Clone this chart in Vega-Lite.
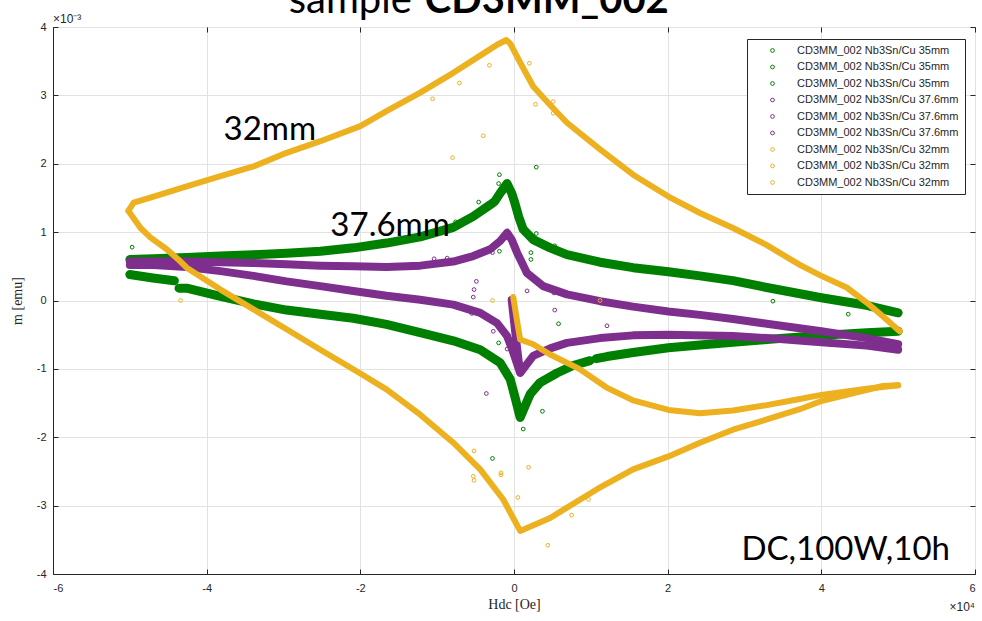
{
  "$schema": "https://vega.github.io/schema/vega-lite/v6.json",
  "width": 922,
  "height": 547,
  "autosize": "none",
  "padding": {"left": 53, "top": 27, "right": 7, "bottom": 47},
  "background": "white",
  "config": {
    "font": "Liberation Sans",
    "view": {"stroke": "#262626", "strokeWidth": 1},
    "axis": {
      "domainColor": "#262626",
      "tickColor": "#262626",
      "labelColor": "#262626",
      "labelFont": "Liberation Sans",
      "labelFontSize": 11,
      "gridColor": "#e2e2e2",
      "gridWidth": 1,
      "tickSize": -5,
      "titleFont": "Liberation Serif",
      "titleFontSize": 14,
      "titleFontWeight": "normal",
      "titleColor": "#262626"
    }
  },
  "datasets": {
    "pts": [
      {"s":"35mm#2","b":"gd","x":5.0,"y":-0.18},{"s":"35mm#2","b":"gd","x":4.59,"y":-0.07},{"s":"35mm#2","b":"gd","x":4.0,"y":0.04},{"s":"35mm#2","b":"gd","x":3.29,"y":0.19},{"s":"35mm#2","b":"gd","x":2.85,"y":0.29},{"s":"35mm#2","b":"gd","x":2.42,"y":0.36},{"s":"35mm#2","b":"gd","x":2.01,"y":0.42},{"s":"35mm#2","b":"gd","x":1.55,"y":0.48},{"s":"35mm#2","b":"gd","x":1.12,"y":0.56},{"s":"35mm#2","b":"gd","x":0.69,"y":0.67},{"s":"35mm#2","b":"gd","x":0.47,"y":0.77},{"s":"35mm#2","b":"gd","x":0.25,"y":0.89},{"s":"35mm#2","b":"gd","x":0.12,"y":1.04},{"s":"35mm#2","b":"gd","x":0.06,"y":1.23},{"s":"35mm#2","b":"gd","x":0.01,"y":1.43},{"s":"35mm#2","b":"gd","x":-0.03,"y":1.57},{"s":"35mm#2","b":"gd","x":-0.09,"y":1.71},{"s":"35mm#2","b":"gd","x":-0.18,"y":1.57},{"s":"35mm#2","b":"gd","x":-0.25,"y":1.45},{"s":"35mm#2","b":"gd","x":-0.31,"y":1.40},{"s":"35mm#2","b":"gd","x":-0.53,"y":1.23},{"s":"35mm#2","b":"gd","x":-0.79,"y":1.07},{"s":"35mm#2","b":"gd","x":-1.22,"y":0.93},{"s":"35mm#2","b":"gd","x":-1.66,"y":0.84},{"s":"35mm#2","b":"gd","x":-2.09,"y":0.77},{"s":"35mm#2","b":"gd","x":-2.52,"y":0.72},{"s":"35mm#2","b":"gd","x":-2.96,"y":0.69},{"s":"35mm#2","b":"gd","x":-3.39,"y":0.67},{"s":"35mm#2","b":"gd","x":-3.82,"y":0.65},{"s":"35mm#2","b":"gd","x":-4.26,"y":0.63},{"s":"35mm#2","b":"gd","x":-4.69,"y":0.61},{"s":"35mm#2","b":"gd","x":-5.0,"y":0.6},
      {"s":"35mm#3","b":"ga1","x":-5.0,"y":0.38},{"s":"35mm#3","b":"ga1","x":-4.7,"y":0.33},{"s":"35mm#3","b":"ga1","x":-4.42,"y":0.29},
      {"s":"35mm#3","b":"ga2","x":-4.36,"y":0.18},{"s":"35mm#3","b":"ga2","x":-4.26,"y":0.18},{"s":"35mm#3","b":"ga2","x":-3.82,"y":0.06},{"s":"35mm#3","b":"ga2","x":-3.39,"y":-0.05},{"s":"35mm#3","b":"ga2","x":-2.96,"y":-0.14},{"s":"35mm#3","b":"ga2","x":-2.52,"y":-0.2},{"s":"35mm#3","b":"ga2","x":-2.09,"y":-0.26},{"s":"35mm#3","b":"ga2","x":-1.66,"y":-0.35},{"s":"35mm#3","b":"ga2","x":-1.22,"y":-0.47},{"s":"35mm#3","b":"ga2","x":-0.79,"y":-0.59},{"s":"35mm#3","b":"ga2","x":-0.44,"y":-0.72},{"s":"35mm#3","b":"ga2","x":-0.18,"y":-0.91},{"s":"35mm#3","b":"ga2","x":-0.05,"y":-1.15},{"s":"35mm#3","b":"ga2","x":0.01,"y":-1.4},{"s":"35mm#3","b":"ga2","x":0.08,"y":-1.71},{"s":"35mm#3","b":"ga2","x":0.21,"y":-1.37},{"s":"35mm#3","b":"ga2","x":0.34,"y":-1.2},{"s":"35mm#3","b":"ga2","x":0.56,"y":-1.06},{"s":"35mm#3","b":"ga2","x":0.77,"y":-0.95},{"s":"35mm#3","b":"ga2","x":0.99,"y":-0.88},
      {"s":"35mm#3","b":"ga3","x":1.07,"y":-0.85},{"s":"35mm#3","b":"ga3","x":1.21,"y":-0.82},{"s":"35mm#3","b":"ga3","x":1.55,"y":-0.76},{"s":"35mm#3","b":"ga3","x":2.01,"y":-0.69},{"s":"35mm#3","b":"ga3","x":2.42,"y":-0.65},{"s":"35mm#3","b":"ga3","x":2.85,"y":-0.61},{"s":"35mm#3","b":"ga3","x":3.29,"y":-0.57},{"s":"35mm#3","b":"ga3","x":4.0,"y":-0.51},{"s":"35mm#3","b":"ga3","x":4.59,"y":-0.47},{"s":"35mm#3","b":"ga3","x":5.0,"y":-0.45},
      {"s":"35mm#1","x":0.29,"y":1.95},{"s":"35mm#1","x":-0.19,"y":1.84},{"s":"35mm#1","x":-0.2,"y":1.71},{"s":"35mm#1","x":0.29,"y":0.98},{"s":"35mm#1","x":0.22,"y":0.7},{"s":"35mm#1","x":0.22,"y":0.6},{"s":"35mm#1","x":0.53,"y":0.8},{"s":"35mm#1","x":0.58,"y":-0.34},{"s":"35mm#1","x":-0.2,"y":-0.62},{"s":"35mm#1","x":0.37,"y":-1.62},{"s":"35mm#1","x":0.12,"y":-1.88},{"s":"35mm#1","x":-0.46,"y":1.44},{"s":"35mm#1","x":-0.76,"y":1.15},{"s":"35mm#1","x":3.37,"y":-0.01},{"s":"35mm#1","x":4.35,"y":-0.2},{"s":"35mm#1","x":-4.97,"y":0.78},{"s":"35mm#1","x":-0.28,"y":-2.31},{"s":"35mm#1","x":-0.19,"y":0.72},

      {"s":"37.6mm#1","b":"pv","x":-0.03,"y":0.01},{"s":"37.6mm#1","b":"pv","x":0.0,"y":-0.3},{"s":"37.6mm#1","b":"pv","x":0.03,"y":-0.6},{"s":"37.6mm#1","b":"pv","x":0.06,"y":-0.88},{"s":"37.6mm#1","b":"pv","x":0.08,"y":-1.04},
      {"s":"37.6mm#2","b":"pd","x":5.0,"y":-0.64},{"s":"37.6mm#2","b":"pd","x":4.59,"y":-0.55},{"s":"37.6mm#2","b":"pd","x":4.0,"y":-0.45},{"s":"37.6mm#2","b":"pd","x":3.29,"y":-0.34},{"s":"37.6mm#2","b":"pd","x":2.85,"y":-0.27},{"s":"37.6mm#2","b":"pd","x":2.42,"y":-0.21},{"s":"37.6mm#2","b":"pd","x":2.01,"y":-0.16},{"s":"37.6mm#2","b":"pd","x":1.55,"y":-0.09},{"s":"37.6mm#2","b":"pd","x":1.12,"y":-0.01},{"s":"37.6mm#2","b":"pd","x":0.69,"y":0.09},{"s":"37.6mm#2","b":"pd","x":0.38,"y":0.21},{"s":"37.6mm#2","b":"pd","x":0.17,"y":0.4},{"s":"37.6mm#2","b":"pd","x":0.04,"y":0.7},{"s":"37.6mm#2","b":"pd","x":-0.03,"y":0.89},{"s":"37.6mm#2","b":"pd","x":-0.09,"y":0.99},{"s":"37.6mm#2","b":"pd","x":-0.18,"y":0.87},{"s":"37.6mm#2","b":"pd","x":-0.31,"y":0.75},{"s":"37.6mm#2","b":"pd","x":-0.53,"y":0.65},{"s":"37.6mm#2","b":"pd","x":-0.79,"y":0.57},{"s":"37.6mm#2","b":"pd","x":-1.22,"y":0.51},{"s":"37.6mm#2","b":"pd","x":-1.66,"y":0.49},{"s":"37.6mm#2","b":"pd","x":-2.09,"y":0.5},{"s":"37.6mm#2","b":"pd","x":-2.52,"y":0.51},{"s":"37.6mm#2","b":"pd","x":-2.96,"y":0.53},{"s":"37.6mm#2","b":"pd","x":-3.39,"y":0.55},{"s":"37.6mm#2","b":"pd","x":-3.82,"y":0.56},{"s":"37.6mm#2","b":"pd","x":-4.26,"y":0.57},{"s":"37.6mm#2","b":"pd","x":-4.69,"y":0.57},{"s":"37.6mm#2","b":"pd","x":-5.0,"y":0.57},
      {"s":"37.6mm#3","b":"pa","x":-5.0,"y":0.52},{"s":"37.6mm#3","b":"pa","x":-4.69,"y":0.52},{"s":"37.6mm#3","b":"pa","x":-4.26,"y":0.49},{"s":"37.6mm#3","b":"pa","x":-3.82,"y":0.43},{"s":"37.6mm#3","b":"pa","x":-3.39,"y":0.36},{"s":"37.6mm#3","b":"pa","x":-2.96,"y":0.28},{"s":"37.6mm#3","b":"pa","x":-2.52,"y":0.21},{"s":"37.6mm#3","b":"pa","x":-2.09,"y":0.14},{"s":"37.6mm#3","b":"pa","x":-1.66,"y":0.07},{"s":"37.6mm#3","b":"pa","x":-1.22,"y":0.01},{"s":"37.6mm#3","b":"pa","x":-0.79,"y":-0.06},{"s":"37.6mm#3","b":"pa","x":-0.44,"y":-0.18},{"s":"37.6mm#3","b":"pa","x":-0.22,"y":-0.33},{"s":"37.6mm#3","b":"pa","x":-0.09,"y":-0.52},{"s":"37.6mm#3","b":"pa","x":-0.01,"y":-0.76},{"s":"37.6mm#3","b":"pa","x":0.08,"y":-1.06},{"s":"37.6mm#3","b":"pa","x":0.25,"y":-0.81},{"s":"37.6mm#3","b":"pa","x":0.47,"y":-0.7},{"s":"37.6mm#3","b":"pa","x":0.69,"y":-0.62},{"s":"37.6mm#3","b":"pa","x":1.12,"y":-0.55},{"s":"37.6mm#3","b":"pa","x":1.55,"y":-0.51},{"s":"37.6mm#3","b":"pa","x":2.01,"y":-0.5},{"s":"37.6mm#3","b":"pa","x":2.85,"y":-0.52},{"s":"37.6mm#3","b":"pa","x":3.29,"y":-0.55},{"s":"37.6mm#3","b":"pa","x":4.0,"y":-0.61},{"s":"37.6mm#3","b":"pa","x":4.59,"y":-0.66},{"s":"37.6mm#3","b":"pa","x":5.0,"y":-0.72},
      {"s":"37.6mm#1","x":-0.49,"y":0.28},{"s":"37.6mm#1","x":-0.52,"y":0.16},{"s":"37.6mm#1","x":-0.53,"y":0.05},{"s":"37.6mm#1","x":-0.55,"y":-0.19},{"s":"37.6mm#1","x":-0.27,"y":-0.45},{"s":"37.6mm#1","x":-0.36,"y":-1.36},{"s":"37.6mm#1","x":0.53,"y":-0.14},{"s":"37.6mm#1","x":0.62,"y":0.11},{"s":"37.6mm#1","x":0.52,"y":0.11},{"s":"37.6mm#1","x":0.17,"y":0.14},{"s":"37.6mm#1","x":-0.87,"y":0.62},{"s":"37.6mm#1","x":-0.28,"y":0.7},{"s":"37.6mm#1","x":1.21,"y":-0.37},{"s":"37.6mm#1","x":-0.09,"y":-0.71},{"s":"37.6mm#1","x":-1.04,"y":0.61},

      {"s":"32mm#1","b":"yv","x":-0.01,"y":0.05},{"s":"32mm#1","b":"yv","x":0.04,"y":-0.3},{"s":"32mm#1","b":"yv","x":0.08,"y":-0.57},{"s":"32mm#1","b":"yv","x":0.25,"y":-0.64},{"s":"32mm#1","b":"yv","x":0.47,"y":-0.79},{"s":"32mm#1","b":"yv","x":0.85,"y":-1.0},{"s":"32mm#1","b":"yv","x":1.2,"y":-1.27},{"s":"32mm#1","b":"yv","x":1.55,"y":-1.46},{"s":"32mm#1","b":"yv","x":2.01,"y":-1.6},{"s":"32mm#1","b":"yv","x":2.42,"y":-1.65},{"s":"32mm#1","b":"yv","x":2.85,"y":-1.61},{"s":"32mm#1","b":"yv","x":3.29,"y":-1.53},{"s":"32mm#1","b":"yv","x":3.72,"y":-1.44},{"s":"32mm#1","b":"yv","x":4.0,"y":-1.38},{"s":"32mm#1","b":"yv","x":4.59,"y":-1.29},{"s":"32mm#1","b":"yv","x":5.0,"y":-1.24},
      {"s":"32mm#2","b":"yd","x":5.02,"y":-0.45},{"s":"32mm#2","b":"yd","x":4.8,"y":-0.23},{"s":"32mm#2","b":"yd","x":4.59,"y":-0.03},{"s":"32mm#2","b":"yd","x":4.33,"y":0.19},{"s":"32mm#2","b":"yd","x":4.0,"y":0.36},{"s":"32mm#2","b":"yd","x":3.72,"y":0.52},{"s":"32mm#2","b":"yd","x":3.29,"y":0.81},{"s":"32mm#2","b":"yd","x":2.85,"y":1.06},{"s":"32mm#2","b":"yd","x":2.42,"y":1.28},{"s":"32mm#2","b":"yd","x":2.01,"y":1.52},{"s":"32mm#2","b":"yd","x":1.55,"y":1.84},{"s":"32mm#2","b":"yd","x":1.12,"y":2.21},{"s":"32mm#2","b":"yd","x":0.69,"y":2.6},{"s":"32mm#2","b":"yd","x":0.47,"y":2.86},{"s":"32mm#2","b":"yd","x":0.25,"y":3.13},{"s":"32mm#2","b":"yd","x":0.08,"y":3.48},{"s":"32mm#2","b":"yd","x":-0.05,"y":3.76},{"s":"32mm#2","b":"yd","x":-0.1,"y":3.81},{"s":"32mm#2","b":"yd","x":-0.22,"y":3.74},{"s":"32mm#2","b":"yd","x":-0.36,"y":3.64},{"s":"32mm#2","b":"yd","x":-0.79,"y":3.33},{"s":"32mm#2","b":"yd","x":-1.22,"y":3.04},{"s":"32mm#2","b":"yd","x":-1.66,"y":2.77},{"s":"32mm#2","b":"yd","x":-2.0,"y":2.55},{"s":"32mm#2","b":"yd","x":-2.52,"y":2.33},{"s":"32mm#2","b":"yd","x":-2.96,"y":2.16},{"s":"32mm#2","b":"yd","x":-3.39,"y":1.96},{"s":"32mm#2","b":"yd","x":-3.82,"y":1.82},{"s":"32mm#2","b":"yd","x":-4.26,"y":1.67},{"s":"32mm#2","b":"yd","x":-4.69,"y":1.52},{"s":"32mm#2","b":"yd","x":-4.95,"y":1.43},{"s":"32mm#2","b":"yd","x":-5.02,"y":1.31},
      {"s":"32mm#3","b":"ya","x":-5.0,"y":1.28},{"s":"32mm#3","b":"ya","x":-4.86,"y":1.06},{"s":"32mm#3","b":"ya","x":-4.73,"y":0.92},{"s":"32mm#3","b":"ya","x":-4.52,"y":0.75},{"s":"32mm#3","b":"ya","x":-4.34,"y":0.57},{"s":"32mm#3","b":"ya","x":-4.26,"y":0.48},{"s":"32mm#3","b":"ya","x":-3.82,"y":0.16},{"s":"32mm#3","b":"ya","x":-3.39,"y":-0.13},{"s":"32mm#3","b":"ya","x":-2.96,"y":-0.42},{"s":"32mm#3","b":"ya","x":-2.52,"y":-0.72},{"s":"32mm#3","b":"ya","x":-2.01,"y":-1.06},{"s":"32mm#3","b":"ya","x":-1.66,"y":-1.3},{"s":"32mm#3","b":"ya","x":-1.22,"y":-1.67},{"s":"32mm#3","b":"ya","x":-0.79,"y":-2.08},{"s":"32mm#3","b":"ya","x":-0.44,"y":-2.47},{"s":"32mm#3","b":"ya","x":-0.14,"y":-2.91},{"s":"32mm#3","b":"ya","x":0.08,"y":-3.37},{"s":"32mm#3","b":"ya","x":0.47,"y":-3.18},{"s":"32mm#3","b":"ya","x":1.08,"y":-2.76},{"s":"32mm#3","b":"ya","x":1.55,"y":-2.47},{"s":"32mm#3","b":"ya","x":2.01,"y":-2.28},{"s":"32mm#3","b":"ya","x":2.42,"y":-2.08},{"s":"32mm#3","b":"ya","x":2.85,"y":-1.89},{"s":"32mm#3","b":"ya","x":3.29,"y":-1.74},{"s":"32mm#3","b":"ya","x":3.72,"y":-1.59},{"s":"32mm#3","b":"ya","x":4.0,"y":-1.47},{"s":"32mm#3","b":"ya","x":4.37,"y":-1.37},{"s":"32mm#3","b":"ya","x":4.8,"y":-1.25},{"s":"32mm#3","b":"ya","x":5.0,"y":-1.24},
      {"s":"32mm#2","x":-0.32,"y":3.44},{"s":"32mm#2","x":-0.71,"y":3.18},{"s":"32mm#2","x":-1.06,"y":2.95},{"s":"32mm#2","x":-0.4,"y":2.41},{"s":"32mm#2","x":-0.8,"y":2.09},{"s":"32mm#2","x":0.2,"y":3.47},{"s":"32mm#2","x":0.28,"y":2.87},{"s":"32mm#2","x":0.51,"y":2.91},{"s":"32mm#2","x":0.51,"y":2.74},{"s":"32mm#2","x":1.12,"y":0.0},{"s":"32mm#2","x":-4.34,"y":0.0},{"s":"32mm#2","x":-0.28,"y":0.0},{"s":"32mm#2","x":-0.52,"y":-2.2},{"s":"32mm#2","x":-0.53,"y":-2.57},{"s":"32mm#2","x":-0.52,"y":-2.63},{"s":"32mm#2","x":-0.17,"y":-2.52},{"s":"32mm#2","x":-0.17,"y":-2.55},{"s":"32mm#2","x":0.05,"y":-2.88},{"s":"32mm#2","x":0.19,"y":-2.44},{"s":"32mm#2","x":0.75,"y":-3.14},{"s":"32mm#2","x":0.44,"y":-3.58},{"s":"32mm#2","x":0.97,"y":-2.91}
    ],
    "notes": [
      {"t": "32mm", "x": -3.78, "y": 2.35},
      {"t": "37.6mm", "x": -2.39, "y": 0.94},
      {"t": "DC,100W,10h", "x": 2.96, "y": -3.79}
    ],
    "title1": [{"t": "sample", "x": -1.33, "y": 4.2}],
    "title2": [{"t": "CD3MM_002", "x": -1.16, "y": 4.2}],
    "exp1": [{"t": "×10⁻³", "x": -6, "y": 4}],
    "exp2": [{"t": "×10⁴", "x": 6, "y": -4}]
  },
  "layer": [
    {
      "data": {"name": "pts"},
      "transform": [{"filter": "indexof(datum.s, '35mm') == 0"}],
      "mark": {"type": "point", "shape": "circle", "filled": false, "size": 14, "strokeWidth": 1, "opacity": 1},
      "encoding": {
        "x": {"field": "x", "type": "quantitative", "scale": {"domain": [-6, 6], "nice": false, "zero": false},
              "axis": {"orient": "bottom", "values": [-6, -4, -2, 0, 2, 4, 6], "grid": true, "labelPadding": 13, "labelExpr": "'' + datum.value", "title": "Hdc [Oe]", "titlePadding": 4}},
        "y": {"field": "y", "type": "quantitative", "scale": {"domain": [-4, 4], "nice": false, "zero": false},
              "axis": {"orient": "left", "values": [-4, -3, -2, -1, 0, 1, 2, 3, 4], "grid": true, "labelPadding": 12, "labelExpr": "'' + datum.value", "title": "m [emu]", "titlePadding": 12}},
        "color": {
          "field": "s", "type": "nominal",
          "scale": {"domain": ["35mm#1","35mm#2","35mm#3","37.6mm#1","37.6mm#2","37.6mm#3","32mm#1","32mm#2","32mm#3"],
                    "range": ["#008000","#008000","#008000","#7E2F8E","#7E2F8E","#7E2F8E","#EDB120","#EDB120","#EDB120"]},
          "legend": {
            "title": null, "orient": "none", "legendX": 694, "legendY": 12,
            "labelExpr": "'CD3MM_002 Nb3Sn/Cu ' + split(datum.label, '#')[0]",
            "symbolType": "circle", "symbolSize": 14, "symbolStrokeWidth": 1,
            "labelFont": "Liberation Sans", "labelFontSize": 11, "labelColor": "#262626",
            "rowPadding": 4.5, "padding": 6, "symbolOffset": 14, "labelOffset": 19,
            "strokeColor": "#262626", "fillColor": "white", "labelLimit": 300
          }
        }
      }
    },
    {
      "data": {"name": "pts"},
      "transform": [{"filter": "indexof(datum.s, '35mm') == 0 && isValid(datum.b)"}],
      "mark": {"type": "line", "strokeWidth": 9, "strokeCap": "round", "strokeJoin": "round"},
      "encoding": {
        "x": {"field": "x", "type": "quantitative", "axis": {"orient": "top", "values": [-6, -4, -2, 0, 2, 4, 6], "labels": false, "title": null, "grid": false, "domain": false}},
        "y": {"field": "y", "type": "quantitative", "axis": {"orient": "right", "values": [-4, -3, -2, -1, 0, 1, 2, 3, 4], "labels": false, "title": null, "grid": false, "domain": false}},
        "color": {"field": "s", "type": "nominal"},
        "detail": {"field": "b"},
        "order": {"value": null}
      }
    },
    {
      "data": {"name": "pts"},
      "transform": [{"filter": "indexof(datum.s, '37.6mm') == 0"}],
      "mark": {"type": "point", "shape": "circle", "filled": false, "size": 14, "strokeWidth": 1, "opacity": 1},
      "encoding": {
        "x": {"field": "x", "type": "quantitative", "axis": null},
        "y": {"field": "y", "type": "quantitative", "axis": null},
        "color": {"field": "s", "type": "nominal"}
      }
    },
    {
      "data": {"name": "pts"},
      "transform": [{"filter": "indexof(datum.s, '37.6mm') == 0 && isValid(datum.b)"}],
      "mark": {"type": "line", "strokeWidth": 8, "strokeCap": "round", "strokeJoin": "round"},
      "encoding": {
        "x": {"field": "x", "type": "quantitative", "axis": null},
        "y": {"field": "y", "type": "quantitative", "axis": null},
        "color": {"field": "s", "type": "nominal"},
        "detail": {"field": "b"},
        "order": {"value": null}
      }
    },
    {
      "data": {"name": "pts"},
      "transform": [{"filter": "indexof(datum.s, '32mm') == 0"}],
      "mark": {"type": "point", "shape": "circle", "filled": false, "size": 14, "strokeWidth": 1, "opacity": 1},
      "encoding": {
        "x": {"field": "x", "type": "quantitative", "axis": null},
        "y": {"field": "y", "type": "quantitative", "axis": null},
        "color": {"field": "s", "type": "nominal"}
      }
    },
    {
      "data": {"name": "pts"},
      "transform": [{"filter": "indexof(datum.s, '32mm') == 0 && isValid(datum.b)"}],
      "mark": {"type": "line", "strokeWidth": 6, "strokeCap": "round", "strokeJoin": "round"},
      "encoding": {
        "x": {"field": "x", "type": "quantitative", "axis": null},
        "y": {"field": "y", "type": "quantitative", "axis": null},
        "color": {"field": "s", "type": "nominal"},
        "detail": {"field": "b"},
        "order": {"value": null}
      }
    },
    {
      "data": {"name": "notes"},
      "mark": {"type": "text", "font": "Lato", "fontSize": 33, "align": "left", "baseline": "alphabetic", "color": "black"},
      "encoding": {
        "x": {"field": "x", "type": "quantitative", "axis": null},
        "y": {"field": "y", "type": "quantitative", "axis": null},
        "text": {"field": "t"}
      }
    },
    {
      "data": {"name": "title1"},
      "mark": {"type": "text", "font": "Lato", "fontSize": 40, "align": "right", "baseline": "alphabetic", "color": "black"},
      "encoding": {
        "x": {"field": "x", "type": "quantitative", "axis": null},
        "y": {"field": "y", "type": "quantitative", "axis": null},
        "text": {"field": "t"}
      }
    },
    {
      "data": {"name": "title2"},
      "mark": {"type": "text", "font": "Lato", "fontSize": 40, "fontWeight": "bold", "align": "left", "baseline": "alphabetic", "color": "black"},
      "encoding": {
        "x": {"field": "x", "type": "quantitative", "axis": null},
        "y": {"field": "y", "type": "quantitative", "axis": null},
        "text": {"field": "t"}
      }
    },
    {
      "data": {"name": "exp1"},
      "mark": {"type": "text", "font": "Liberation Sans", "fontSize": 12, "align": "left", "baseline": "alphabetic", "dy": -4, "color": "#262626"},
      "encoding": {
        "x": {"field": "x", "type": "quantitative", "axis": null},
        "y": {"field": "y", "type": "quantitative", "axis": null},
        "text": {"field": "t"}
      }
    },
    {
      "data": {"name": "exp2"},
      "mark": {"type": "text", "font": "Liberation Sans", "fontSize": 12, "align": "right", "baseline": "alphabetic", "dy": 37, "color": "#262626"},
      "encoding": {
        "x": {"field": "x", "type": "quantitative", "axis": null},
        "y": {"field": "y", "type": "quantitative", "axis": null},
        "text": {"field": "t"}
      }
    }
  ],
  "resolve": {"axis": {"x": "independent", "y": "independent"}}
}
